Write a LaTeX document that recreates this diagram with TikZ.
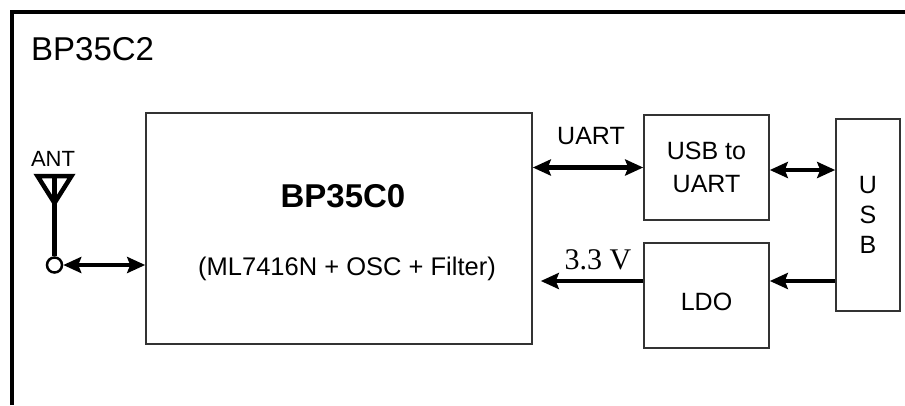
\documentclass[tikz,border=0pt]{standalone}
\usepackage{fontspec}
\setmainfont{Liberation Sans}
\newfontfamily\serifv{Liberation Serif}
\usetikzlibrary{arrows.meta,positioning}
\tikzset{
  bloc/.style={draw=black!80, line width=1.6pt, inner sep=0pt, align=center,
    font=\fontsize{25}{33}\selectfont},
  txt/.style={inner sep=0pt, font=\fontsize{25}{30}\selectfont},
  pointe/.tip={Stealth[length=18pt,width=16pt,inset=3pt]},
  fleche/.style={line width=4.5pt, -pointe},
  double fleche/.style={line width=4.5pt, pointe-pointe}
}
\begin{document}
\begin{tikzpicture}[x=1pt,y=-1pt]
         \useasboundingbox (0,0) rectangle (905,405);
         % Cadre extérieur
         \draw[line width=4.5pt] (12,405) -- (12,12) -- (905,12);
         \node[txt, font=\fontsize{33}{36}\selectfont, anchor=west] (titre) at (31,49) {BP35C2};

         % Les blocs
         \node[bloc, minimum width=386pt, minimum height=231pt] (bp) at (339,228.5) {};
         \node[txt, font=\bfseries\fontsize{33}{36}\selectfont] (bpnom) at (343,196) {BP35C0};
         \node[txt, font=\fontsize{25.5}{30}\selectfont] (bpdetail) at (347,269) {(ML7416N + OSC + Filter)};
         \node[bloc, minimum width=125pt, minimum height=105pt] (usbuart) at (706.5,167.5) {USB to\\UART};
         \node[bloc, minimum width=125pt, minimum height=105pt, text height=31pt] (ldo) at (706.5,295.5) {LDO};
         \node[bloc, minimum width=64pt, minimum height=192pt, font=\fontsize{25}{30}\selectfont] (usb) at (868,215) {U\\S\\B};

         % Antenne
         \node[circle, draw, line width=2.5pt, fill=white, minimum size=15pt, inner sep=0pt] (ant) at (54.5,265) {};
         \coordinate (anthaut) at (54.5,176);
         \draw[line width=4.5pt] (ant.north) -- (anthaut);
         \draw[line width=4.5pt, line join=miter] ([xshift=-17pt]anthaut) -- ([xshift=17pt]anthaut) -- ([yshift=-27pt]anthaut) -- cycle;
         \node[txt, font=\fontsize{22}{24}\selectfont] (antnom) at (53,159) {ANT};

         % Les liaisons
         \draw[double fleche] (ant.east) -- (ant.east -| bp.west);
         \draw[double fleche] (usbuart.west -| bp.east) -- (usbuart.west);
         \node[txt] (uart) at (591,136) {UART};
         \draw[double fleche] ([yshift=-2.5pt]usbuart.east) -- ([yshift=-2.5pt]usbuart.east -| usb.west);
         \draw[fleche, shorten >=8pt] ([yshift=14.5pt]ldo.west) -- ([yshift=14.5pt]ldo.west -| bp.east);
         \node[txt, font=\serifv\fontsize{30}{32}\selectfont] (tension) at (598,260) {3.3 V};
         \draw[fleche] ([yshift=14.5pt]ldo.east -| usb.west) -- ([yshift=14.5pt]ldo.east);
\end{tikzpicture}
\end{document}
